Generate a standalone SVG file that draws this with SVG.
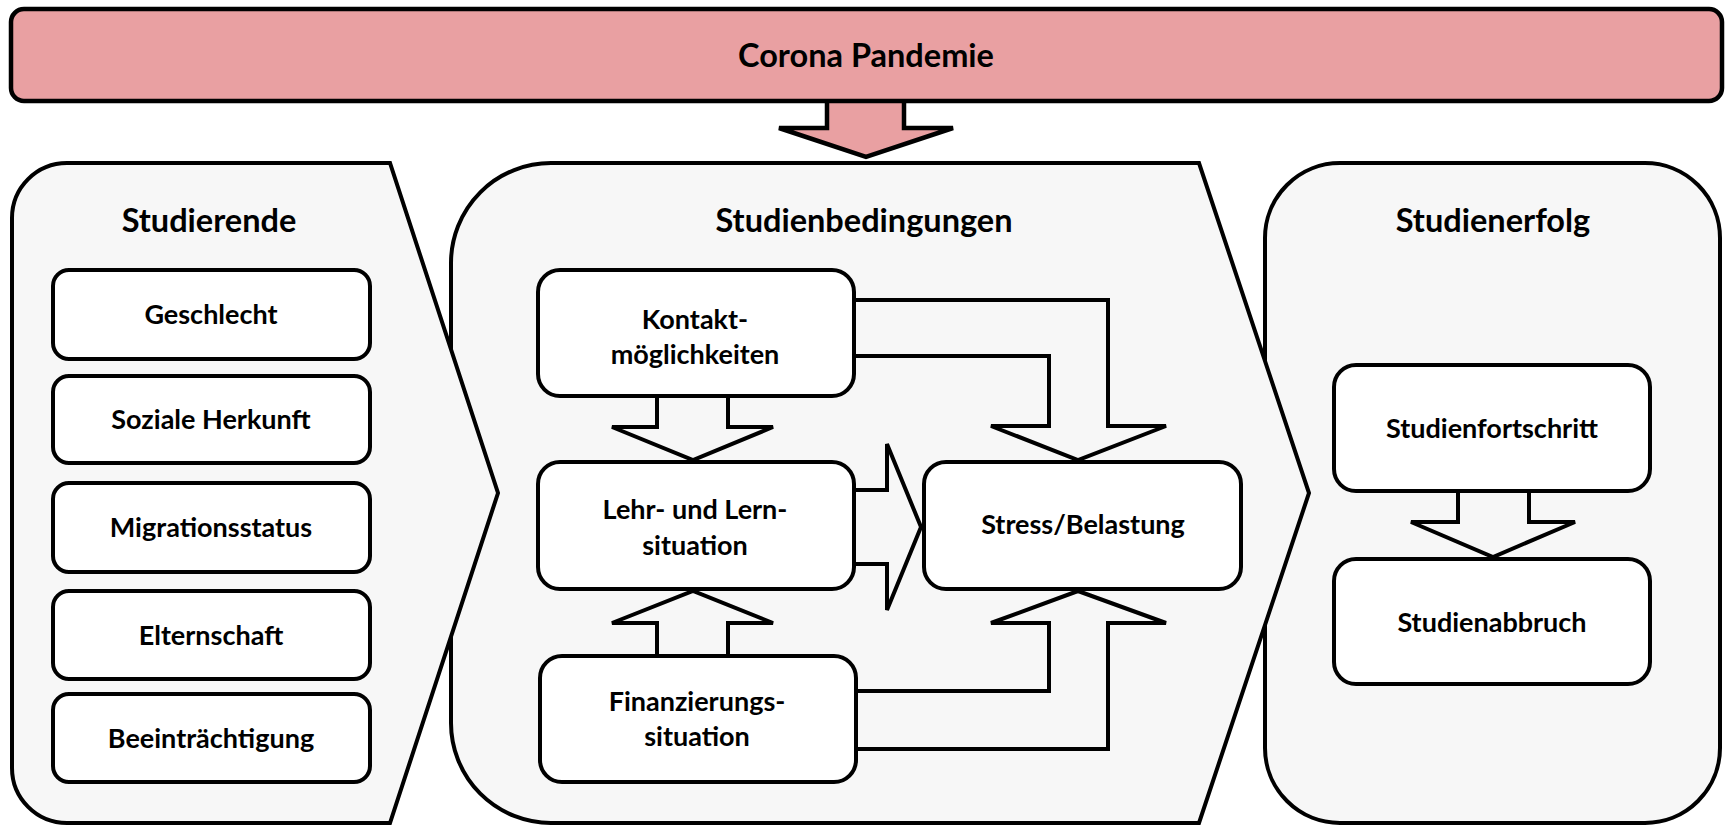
<svg xmlns="http://www.w3.org/2000/svg" width="1725" height="827" viewBox="0 0 1725 827">
<style>
.bg{fill:#ffffff}
.panel{fill:#f7f7f7;stroke:#000;stroke-width:4;stroke-linejoin:miter}
.box{fill:#ffffff;stroke:#000;stroke-width:4}
.arr{fill:#f7f7f7;stroke:#000;stroke-width:4;stroke-linejoin:miter}
.pink{fill:#e9a0a2;stroke:#000;stroke-width:4.5;stroke-linejoin:miter}
.t{font-family:Lato,"Open Sans","DejaVu Sans",sans-serif;font-weight:bold;fill:#000;text-anchor:middle}
.title{font-size:32.5px}
.lbl{font-size:27px}
</style>
<rect class="bg" x="0" y="0" width="1725" height="827"/>

<g id="panel-studienerfolg">
<rect class="panel" x="1265" y="163" width="455" height="660" rx="75" ry="75"/>
<text class="t title" x="1493" y="232">Studienerfolg</text>
</g>

<g id="panel-studienbedingungen">
<path class="panel" d="M551,163 L1199,163 L1309,493 L1199,823 L551,823 A100,100 0 0 1 451,723 L451,263 A100,100 0 0 1 551,163 Z"/>
<text class="t title" x="864" y="232">Studienbedingungen</text>
</g>

<g id="panel-studierende">
<path class="panel" d="M67,163 L390,163 L498,493 L390,823 L67,823 A55,55 0 0 1 12,768 L12,218 A55,55 0 0 1 67,163 Z"/>
<text class="t title" x="209" y="232">Studierende</text>
</g>

<g id="connectors">
<polygon class="pink" points="827,100 827,128 779,128 866,157 953,128 904,128 904,100"/>
<polygon class="arr" points="657,396 657,427 612,427 693,460 773,427 728,427 728,396"/>
<polygon class="arr" points="854,300 1108,300 1108,426 1166,426 1078,460 991,426 1049,426 1049,356 854,356"/>
<polygon class="arr" points="854,490 887,490 887,444 921,527 887,610 887,564 854,564"/>
<polygon class="arr" points="657,656 657,623 612,623 693,591 773,623 728,623 728,656"/>
<polygon class="arr" points="856,691 1049,691 1049,623 991,623 1078,591 1166,623 1108,623 1108,749 856,749"/>
<polygon class="arr" points="1458,491 1458,522 1411,522 1493,557 1575,522 1529,522 1529,491"/>
</g>

<g id="corona-pandemie">
<rect class="pink" x="11" y="9" width="1711" height="92" rx="13" ry="13"/>
<text class="t title" x="866" y="67">Corona Pandemie</text>
</g>

<g id="geschlecht">
<rect class="box" x="53" y="270" width="317" height="89" rx="16" ry="16"/>
<text class="t lbl" x="211" y="324">Geschlecht</text>
</g>
<g id="soziale-herkunft">
<rect class="box" x="53" y="376" width="317" height="87" rx="16" ry="16"/>
<text class="t lbl" x="211" y="429">Soziale Herkunft</text>
</g>
<g id="migrationsstatus">
<rect class="box" x="53" y="483" width="317" height="89" rx="16" ry="16"/>
<text class="t lbl" x="211" y="537">Migrationsstatus</text>
</g>
<g id="elternschaft">
<rect class="box" x="53" y="591" width="317" height="88" rx="16" ry="16"/>
<text class="t lbl" x="211" y="645">Elternschaft</text>
</g>
<g id="beeintraechtigung">
<rect class="box" x="53" y="694" width="317" height="88" rx="16" ry="16"/>
<text class="t lbl" x="211" y="748">Beeinträchtigung</text>
</g>

<g id="kontaktmoeglichkeiten">
<rect class="box" x="538" y="270" width="316" height="126" rx="22" ry="22"/>
<text class="t lbl" x="695" y="329">Kontakt-</text>
<text class="t lbl" x="695" y="364">möglichkeiten</text>
</g>
<g id="lehr-lernsituation">
<rect class="box" x="538" y="462" width="316" height="127" rx="22" ry="22"/>
<text class="t lbl" x="695" y="519">Lehr- und Lern-</text>
<text class="t lbl" x="695" y="555">situation</text>
</g>
<g id="finanzierungssituation">
<rect class="box" x="540" y="656" width="316" height="126" rx="22" ry="22"/>
<text class="t lbl" x="697" y="711">Finanzierungs-</text>
<text class="t lbl" x="697" y="746">situation</text>
</g>
<g id="stress-belastung">
<rect class="box" x="924" y="462" width="317" height="127" rx="22" ry="22"/>
<text class="t lbl" x="1083" y="534">Stress/Belastung</text>
</g>

<g id="studienfortschritt">
<rect class="box" x="1334" y="365" width="316" height="126" rx="22" ry="22"/>
<text class="t lbl" x="1492" y="438">Studienfortschritt</text>
</g>
<g id="studienabbruch">
<rect class="box" x="1334" y="559" width="316" height="125" rx="22" ry="22"/>
<text class="t lbl" x="1492" y="632">Studienabbruch</text>
</g>
</svg>
